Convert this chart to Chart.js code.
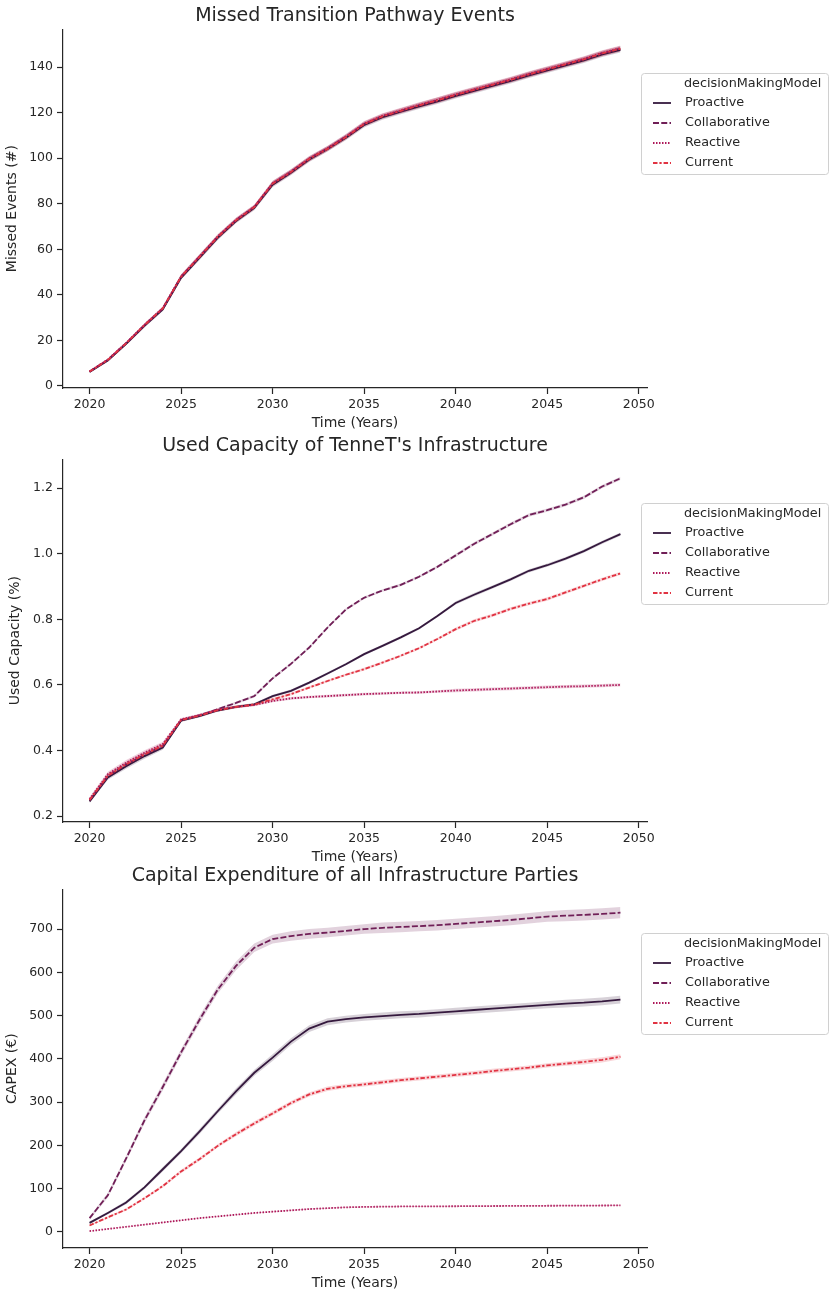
<!DOCTYPE html>
<html>
<head>
<meta charset="utf-8">
<title>Decision making model comparison</title>
<script src="https://cdn.jsdelivr.net/npm/chart.js@4.4.1/dist/chart.umd.min.js"></script>
<style>
  html, body { margin: 0; padding: 0; background: #fff; }
  body { width: 831px; height: 1295px; position: relative; overflow: hidden; }
  .panel { position: absolute; left: 0; width: 831px; }
</style>
</head>
<body>
<div class="panel" style="top:0;height:432px"><canvas id="missedChart"></canvas></div>
<div class="panel" style="top:430px;height:436px"><canvas id="capacityChart"></canvas></div>
<div class="panel" style="top:860px;height:432px"><canvas id="capexChart"></canvas></div>
<script>
const years = [2020, 2021, 2022, 2023, 2024, 2025, 2026, 2027, 2028, 2029,
               2030, 2031, 2032, 2033, 2034, 2035, 2036, 2037, 2038, 2039,
               2040, 2041, 2042, 2043, 2044, 2045, 2046, 2047, 2048, 2049];
const yearTicks = [2020, 2025, 2030, 2035, 2040, 2045, 2050];

const legendTitle = 'decisionMakingModel';
const models = ['Proactive', 'Collaborative', 'Reactive', 'Current'];

// Missed transition pathway events (#)
const missedProactive = [6.1, 11.2, 18.5, 26.4, 33.6, 47.5, 56.2, 65.0, 72.4, 78.2, 88.4, 93.6, 99.4, 104.0, 109.0, 114.6, 118.0, 120.4, 122.8, 125.0, 127.4, 129.6, 131.8, 134.0, 136.4, 138.6, 140.8, 143.0, 145.6, 147.6];
const missedCollaborative = [6.3, 11.5, 18.8, 26.7, 34.0, 48.0, 56.7, 65.5, 72.8, 78.6, 88.9, 94.0, 99.8, 104.3, 109.4, 115.0, 118.4, 120.8, 123.2, 125.4, 127.8, 130.0, 132.2, 134.4, 136.8, 139.0, 141.2, 143.4, 146.0, 148.1];
const missedReactive = [6.4, 11.6, 18.9, 26.8, 34.2, 48.1, 56.8, 65.6, 72.9, 78.7, 89.0, 94.1, 99.9, 104.4, 109.5, 115.2, 118.6, 121.0, 123.4, 125.6, 128.0, 130.2, 132.4, 134.6, 137.0, 139.2, 141.4, 143.6, 146.2, 148.3];
const missedCurrent = [6.3, 11.4, 18.7, 26.7, 34.0, 47.9, 56.6, 65.4, 72.7, 78.5, 88.8, 93.9, 99.7, 104.1, 109.2, 115.0, 118.4, 120.8, 123.2, 125.4, 127.8, 130.0, 132.2, 134.4, 136.8, 139.0, 141.2, 143.4, 146.0, 148.1];
const missedBand = [0.4, 0.5, 0.6, 0.7, 0.8, 0.9, 1.0, 1.0, 1.0, 1.0, 1.1, 1.1, 1.1, 1.1, 1.1, 1.1, 1.1, 1.1, 1.2, 1.2, 1.2, 1.2, 1.2, 1.2, 1.2, 1.2, 1.2, 1.2, 1.2, 1.2];
const missedTicks = [0, 20, 40, 60, 80, 100, 120, 140];

// Used capacity of TenneT's infrastructure (%)
const capacityProactive = [0.245, 0.318, 0.352, 0.383, 0.409, 0.491, 0.505, 0.522, 0.533, 0.541, 0.566, 0.582, 0.607, 0.635, 0.663, 0.694, 0.719, 0.745, 0.773, 0.810, 0.850, 0.875, 0.898, 0.922, 0.948, 0.965, 0.985, 1.008, 1.035, 1.060];
const capacityCollaborative = [0.248, 0.322, 0.357, 0.387, 0.413, 0.493, 0.507, 0.526, 0.545, 0.566, 0.620, 0.664, 0.714, 0.775, 0.830, 0.866, 0.888, 0.905, 0.930, 0.960, 0.995, 1.030, 1.060, 1.090, 1.118, 1.133, 1.150, 1.172, 1.205, 1.230];
const capacityReactive = [0.252, 0.328, 0.363, 0.393, 0.420, 0.495, 0.508, 0.524, 0.533, 0.539, 0.551, 0.559, 0.563, 0.566, 0.569, 0.572, 0.574, 0.576, 0.577, 0.580, 0.583, 0.585, 0.587, 0.589, 0.591, 0.593, 0.595, 0.596, 0.598, 0.600];
const capacityCurrent = [0.249, 0.323, 0.358, 0.388, 0.415, 0.493, 0.506, 0.523, 0.533, 0.540, 0.556, 0.572, 0.592, 0.612, 0.631, 0.648, 0.668, 0.689, 0.712, 0.740, 0.770, 0.795, 0.812, 0.832, 0.848, 0.862, 0.882, 0.902, 0.922, 0.940];
const capacityBand = [0.006, 0.007, 0.008, 0.008, 0.007, 0.004, 0.004, 0.004, 0.004, 0.004, 0.004, 0.004, 0.004, 0.004, 0.004, 0.004, 0.004, 0.004, 0.004, 0.004, 0.005, 0.005, 0.005, 0.005, 0.005, 0.005, 0.005, 0.005, 0.005, 0.005];
const capacityTicks = [0.2, 0.4, 0.6, 0.8, 1.0, 1.2];

// Capital expenditure of all infrastructure parties (€)
const capexProactive = [21, 44, 68, 103, 145, 187, 232, 279, 325, 368, 403, 440, 470, 486, 492, 496, 499, 502, 504, 507, 510, 513, 516, 519, 522, 525, 528, 530, 533, 537];
const capexCollaborative = [32, 85, 170, 258, 335, 415, 490, 560, 615, 657, 677, 684, 689, 692, 696, 700, 703, 705, 707, 709, 712, 715, 718, 721, 725, 729, 731, 733, 735, 738];
const capexReactive = [2, 7, 12, 17, 22, 27, 32, 36, 40, 44, 47, 50, 53, 55, 57, 58, 58.5, 59, 59, 59.3, 59.5, 59.8, 60, 60.2, 60.4, 60.6, 60.8, 61, 61.2, 61.4];
const capexCurrent = [15, 34, 52, 78, 106, 140, 168, 199, 226, 251, 274, 298, 318, 331, 337, 341, 346, 351, 355, 359, 363, 367, 372, 376, 380, 385, 389, 393, 398, 405];
const capexBandProactive = [3, 3, 4, 4, 5, 5, 6, 6, 7, 7, 8, 8, 8, 8, 8, 8, 8, 8, 8, 8, 8, 8, 8, 8, 8, 8, 9, 9, 9, 9];
const capexBandCollaborative = [4, 5, 6, 7, 8, 8, 9, 9, 10, 10, 10, 11, 11, 11, 11, 11, 12, 12, 12, 12, 12, 12, 12, 12, 12, 12, 13, 13, 13, 13];
const capexBandReactive = [0.5, 0.6, 0.7, 0.8, 0.9, 1, 1, 1, 1, 1, 1.2, 1.2, 1.2, 1.2, 1.2, 1.2, 1.2, 1.2, 1.2, 1.2, 1.3, 1.3, 1.3, 1.3, 1.3, 1.3, 1.3, 1.3, 1.3, 1.3];
const capexBandCurrent = [2, 2, 3, 3, 3, 4, 4, 4, 5, 5, 5, 5, 5, 5, 5, 5, 5, 5, 5, 5, 5, 5, 5, 5, 5, 5, 5, 6, 6, 6];
const capexTicks = [0, 100, 200, 300, 400, 500, 600, 700];

// rocket palette, seaborn default dash cycle
const modelColors = ['#35193e', '#701f57', '#ad1759', '#e13342'];
const modelDashes = [[], [6, 2.25], [1.5, 1.5], [4.5, 1.9, 2.25, 1.9]];

const INK = '#262626';
const FAMILY = '"DejaVu Sans", "Liberation Sans", sans-serif';
Chart.defaults.font.family = FAMILY;

function withAlpha(hex, a) {
  const n = parseInt(hex.slice(1), 16);
  return `rgba(${(n >> 16) & 255}, ${(n >> 8) & 255}, ${n & 255}, ${a})`;
}

// one lower/upper pair per model for the error band, then the mean line
function buildDatasets(series, bands) {
  const sets = [];
  series.forEach((values, i) => {
    const band = bands[i];
    sets.push({
      data: years.map((yr, k) => ({ x: yr, y: values[k] - band[k] })),
      borderWidth: 0, pointRadius: 0, fill: false, order: 20 + (3 - i)
    });
    sets.push({
      data: years.map((yr, k) => ({ x: yr, y: values[k] + band[k] })),
      borderWidth: 0, pointRadius: 0, fill: '-1',
      backgroundColor: withAlpha(modelColors[i], 0.2), order: 10 + (3 - i)
    });
    sets.push({
      label: models[i],
      data: years.map((yr, k) => ({ x: yr, y: values[k] })),
      borderColor: modelColors[i], borderWidth: 1.8, borderDash: modelDashes[i],
      pointRadius: 0, fill: false, tension: 0, order: 3 - i
    });
  });
  return sets;
}

// seaborn-style boxed legend to the right of the axes
const modelLegend = {
  id: 'modelLegend',
  afterDraw(chart) {
    const { ctx, chartArea } = chart;
    const top = Math.round(chartArea.top) + 44;
    ctx.save();
    ctx.beginPath();
    ctx.roundRect(641.5, top + 0.5, 187, 101, 3);
    ctx.fillStyle = 'rgba(255,255,255,0.8)';
    ctx.fill();
    ctx.strokeStyle = '#d0d0d0';
    ctx.lineWidth = 1;
    ctx.stroke();
    ctx.font = `12.8px ${FAMILY}`;
    ctx.fillStyle = INK;
    ctx.textBaseline = 'middle';
    ctx.fillText(legendTitle, 684, top + 11);
    models.forEach((name, i) => {
      const y = top + 30 + i * 20;
      ctx.beginPath();
      ctx.setLineDash(modelDashes[i]);
      ctx.strokeStyle = modelColors[i];
      ctx.lineWidth = 1.8;
      ctx.moveTo(653, y);
      ctx.lineTo(671, y);
      ctx.stroke();
      ctx.setLineDash([]);
      ctx.fillText(name, 685, y);
    });
    ctx.restore();
  }
};

function drawPanel(id, cfg) {
  const tickFont = { size: 12.5 };
  const labelFont = { size: 14 };
  const axisGrid = { display: true, drawOnChartArea: false, drawTicks: true, tickLength: 6, tickWidth: 1.2, tickColor: INK };
  const axisBorder = { display: true, color: INK, width: 1.2 };
  new Chart(document.getElementById(id), {
    type: 'line',
    data: { datasets: buildDatasets(cfg.series, cfg.bands) },
    options: {
      responsive: true,
      maintainAspectRatio: false,
      animation: false,
      events: [],
      layout: { padding: { left: 0, right: 184, top: 0, bottom: 0 } },
      plugins: {
        legend: { display: false },
        tooltip: { enabled: false },
        title: {
          display: true, text: cfg.title, color: INK, fullSize: false,
          font: { size: 19, weight: 'normal' }, padding: { top: 4.5, bottom: 2 }
        }
      },
      scales: {
        x: {
          type: 'linear', min: 2018.55, max: 2050.45,
          afterBuildTicks: s => { s.ticks = yearTicks.map(v => ({ value: v })); },
          afterFit: s => { s.height = 44; },
          grid: axisGrid, border: axisBorder,
          ticks: { color: INK, font: tickFont, padding: 3, maxRotation: 0, autoSkip: false, callback: v => String(v) },
          title: { display: true, text: 'Time (Years)', color: INK, font: labelFont, padding: { top: 0, bottom: 0 } }
        },
        y: {
          type: 'linear', min: cfg.yMin, max: cfg.yMax,
          afterBuildTicks: s => { s.ticks = cfg.ticks.map(v => ({ value: v })); },
          afterFit: s => { s.width = 63; },
          grid: axisGrid, border: axisBorder,
          ticks: { color: INK, font: tickFont, padding: 4, autoSkip: false, callback: cfg.format },
          title: { display: true, text: cfg.yTitle, color: INK, font: labelFont, padding: { top: cfg.yTitlePad, bottom: 0 } }
        }
      }
    },
    plugins: [modelLegend]
  });
}

drawPanel('missedChart', {
  title: 'Missed Transition Pathway Events',
  yTitle: 'Missed Events (#)', yTitlePad: 3.6,
  series: [missedProactive, missedCollaborative, missedReactive, missedCurrent],
  bands: [missedBand, missedBand, missedBand, missedBand],
  yMin: -0.9, yMax: 156.6, ticks: missedTicks, format: v => String(v)
});

drawPanel('capacityChart', {
  title: "Used Capacity of TenneT's Infrastructure",
  yTitle: 'Used Capacity (%)', yTitlePad: 6.6,
  series: [capacityProactive, capacityCollaborative, capacityReactive, capacityCurrent],
  bands: [capacityBand, capacityBand, capacityBand, capacityBand],
  yMin: 0.182, yMax: 1.288, ticks: capacityTicks, format: v => v.toFixed(1)
});

drawPanel('capexChart', {
  title: 'Capital Expenditure of all Infrastructure Parties',
  yTitle: 'CAPEX (€)', yTitlePad: 3.6,
  series: [capexProactive, capexCollaborative, capexReactive, capexCurrent],
  bands: [capexBandProactive, capexBandCollaborative, capexBandReactive, capexBandCurrent],
  yMin: -37, yMax: 792, ticks: capexTicks, format: v => String(v)
});
</script>
</body>
</html>
